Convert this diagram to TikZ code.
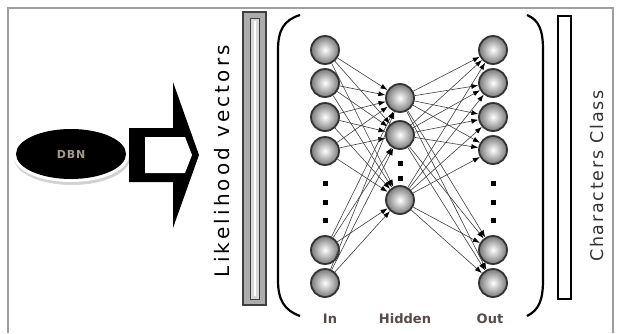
\documentclass[tikz,border=0pt]{standalone}
\usepackage{fontspec}
\setmainfont{DejaVu Sans}
\newfontfamily\lvfont[LetterSpace=16]{DejaVu Sans}
\newfontfamily\ccfont[LetterSpace=10]{DejaVu Sans}
\newfontfamily\dbnfont[LetterSpace=8]{DejaVu Sans}
\usetikzlibrary{arrows.meta,shapes.geometric}
\definecolor{labcol}{RGB}{85,75,72}
\definecolor{dbncol}{RGB}{165,155,140}
\tikzset{
  neuron/.style={circle,minimum size=28pt,inner sep=0pt,draw=black!80,line width=1.8pt,
    shading=radial,inner color=white,outer color=gray!95!black},
  dotsq/.style={fill=black,minimum size=5pt,inner sep=0pt,rectangle},
  conn/.style={draw=black!75,line width=0.6pt,-{Latex[length=7pt,width=5pt,color=black]}},
  layerlab/.style={font=\bfseries\fontsize{13}{13}\selectfont,text=labcol,inner sep=0pt},
  paren/.style={draw=black,line width=2.2pt},
  frameline/.style={draw=gray!75,line width=2pt}
}
\begin{document}
\begin{tikzpicture}[x=1pt,y=-1pt]
\useasboundingbox[fill=white] (0,0) rectangle (617,333);
% outer frame
\draw[frameline] (8,333) -- (8,8) -- (613,8) -- (613,333);
% DBN ellipse
\fill[gray!35] (72,158) ellipse [x radius=58,y radius=27];
\fill[white] (71,155) ellipse [x radius=58,y radius=27];
\node[ellipse,fill=black,minimum width=110pt,minimum height=50pt,inner sep=0pt] (dbn) at (71,154)
  {\dbnfont\bfseries\fontsize{11}{11}\selectfont\color{dbncol}DBN};
% block arrow
\fill[black] (129,128) -- (173,128) -- (173,82) -- (199,155) -- (173,228) -- (173,182) -- (129,182) -- cycle;
\fill[white] (145,137) -- (185,137) -- (192,155) -- (185,173) -- (145,173) -- cycle;
% Likelihood vectors
\node[rotate=90,inner sep=0pt] (lv) at (222,161) {\lvfont\fontsize{20}{20}\selectfont Likelihood vectors};
% left tall bar
\draw[fill=gray!65,draw=black!75,line width=2pt] (243,12) rectangle (266,305);
\draw[fill=gray!30,draw=black!75,line width=1pt] (250,18) rectangle (259,299);
\draw[white,line width=2pt] (254.5,21) -- (254.5,296);
% parentheses
\draw[paren] (300,15) .. controls (284,20) and (278,30) .. (278,50) -- (278,280) .. controls (278,300) and (284,310) .. (300,316);
\draw[paren] (527,15) .. controls (539,20) and (543,30) .. (543,50) -- (543,280) .. controls (543,300) and (539,310) .. (527,316);
% right bar
\draw[fill=white,draw=black,line width=2pt] (558,16) rectangle (571,299);
% Characters Class
\node[rotate=90,inner sep=0pt,text=black!80] (cc) at (597,176) {\ccfont\fontsize{17.5}{17.5}\selectfont Characters Class};
% neurons
\foreach \n/\y in {i1/50,i2/83,i3/117,i4/151,i5/250,i6/283} \node[neuron] (\n) at (325,\y) {};
\foreach \n/\y in {h1/98,h2/135,h3/200} \node[neuron] (\n) at (400,\y) {};
\foreach \n/\y in {o1/50,o2/83,o3/117,o4/150,o5/250,o6/283} \node[neuron] (\n) at (493,\y) {};
% dots
\foreach \n/\y in {di1/183,di2/202,di3/220} \node[dotsq] (\n) at (325,\y) {};
\foreach \n/\y in {do1/183,do2/202,do3/220} \node[dotsq] (\n) at (493,\y) {};
\node[dotsq] (dh1) at (400,163) {};
\node[dotsq] (dh2) at (400,178) {};
% connections
\foreach \a in {i1,i2,i3,i4,i5,i6} \foreach \b in {h1,h2,h3} \draw[conn] (\a) -- (\b);
\foreach \a in {h1,h2,h3} \foreach \b in {o1,o2,o3,o4,o5,o6} \draw[conn] (\a) -- (\b);
% labels
\node[layerlab] (lin) at (330,319) {In};
\node[layerlab] (lhid) at (405,319) {Hidden};
\node[layerlab] (lout) at (490,319) {Out};
\end{tikzpicture}
\end{document}
